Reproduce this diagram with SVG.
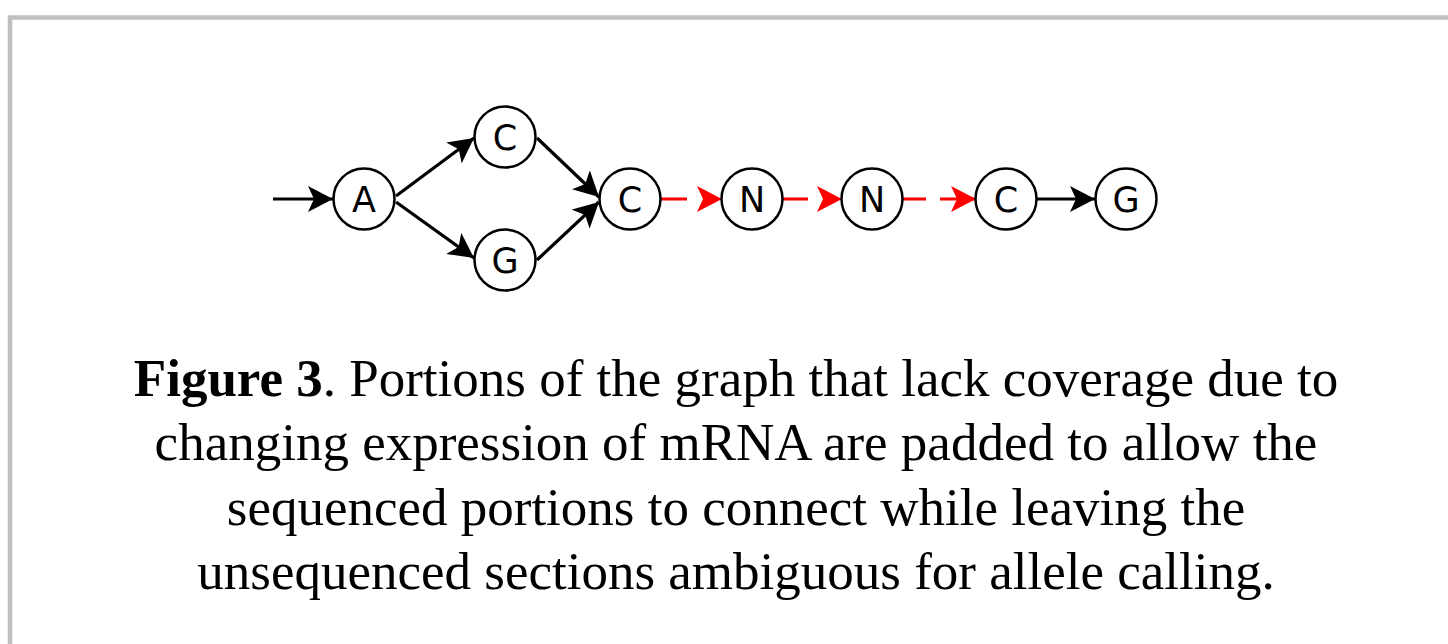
<svg xmlns="http://www.w3.org/2000/svg" width="1448" height="644" viewBox="0 0 1448 644">
  <style>
    .node circle { fill: #ffffff; stroke: #000000; stroke-width: 2.5; }
    .node text { font-family: "DejaVu Sans", sans-serif; font-size: 35px; text-anchor: middle; fill: #000000; }
    .edge { fill: none; stroke-width: 3.2; }
    .black { stroke: #000000; marker-end: url(#head-black); }
    .red { stroke: #ff0000; marker-end: url(#head-red); }
    .caption { font-family: "Liberation Serif", "Times New Roman", serif; font-size: 53px; text-anchor: middle; fill: #000000; }
  </style>
  <defs>
    <marker id="head-black" markerUnits="userSpaceOnUse" viewBox="0 0 25 26" markerWidth="25" markerHeight="26" refX="25" refY="13" orient="auto">
      <path d="M0,0 L25,13 L0,26 L6,13 z" fill="#000000"/>
    </marker>
    <marker id="head-red" markerUnits="userSpaceOnUse" viewBox="0 0 25 26" markerWidth="25" markerHeight="26" refX="25" refY="13" orient="auto">
      <path d="M0,0 L25,13 L0,26 L6,13 z" fill="#ff0000"/>
    </marker>
  </defs>

  <rect width="1448" height="644" fill="#ffffff"/>
  <!-- frame -->
  <path d="M10,644 V17.5 H1448" fill="none" stroke="#c0c0c0" stroke-width="4.5"/>

  <!-- connectors -->
  <g id="connectors">
    <path class="edge black" d="M273,199 H333"/>
    <path class="edge black" d="M396,196 L474,138"/>
    <path class="edge black" d="M396,202 L474,258"/>
    <path class="edge black" d="M537,138 L599,197"/>
    <path class="edge black" d="M537,260 L599,202"/>
    <path class="edge red" d="M661,199 H687 M721,199 H722"/>
    <path class="edge red" d="M783,199 H808 M841,199 H842"/>
    <path class="edge red" d="M903,199 H926 M940,199 H976"/>
    <path class="edge black" d="M1037,199 H1095"/>
  </g>

  <!-- nodes -->
  <g id="node-a" class="node"><circle cx="364" cy="199" r="30.5"/><text x="364" y="212">A</text></g>
  <g id="node-c1" class="node"><circle cx="505" cy="137" r="30.5"/><text x="505" y="150">C</text></g>
  <g id="node-g1" class="node"><circle cx="505" cy="260" r="30.5"/><text x="505" y="273">G</text></g>
  <g id="node-c2" class="node"><circle cx="630" cy="199" r="30.5"/><text x="630" y="212">C</text></g>
  <g id="node-n1" class="node"><circle cx="752" cy="199" r="30.5"/><text x="752" y="212">N</text></g>
  <g id="node-n2" class="node"><circle cx="872" cy="199" r="30.5"/><text x="872" y="212">N</text></g>
  <g id="node-c3" class="node"><circle cx="1006" cy="199" r="30.5"/><text x="1006" y="212">C</text></g>
  <g id="node-g2" class="node"><circle cx="1126" cy="199" r="30.5"/><text x="1126" y="212">G</text></g>

  <!-- caption -->
  <g id="caption">
    <text class="caption" x="736" y="396"><tspan font-weight="bold">Figure 3</tspan>. Portions of the graph that lack coverage due to</text>
    <text class="caption" x="736" y="460">changing expression of mRNA are padded to allow the</text>
    <text class="caption" x="736" y="525">sequenced portions to connect while leaving the</text>
    <text class="caption" x="736" y="589">unsequenced sections ambiguous for allele calling.</text>
  </g>
</svg>
